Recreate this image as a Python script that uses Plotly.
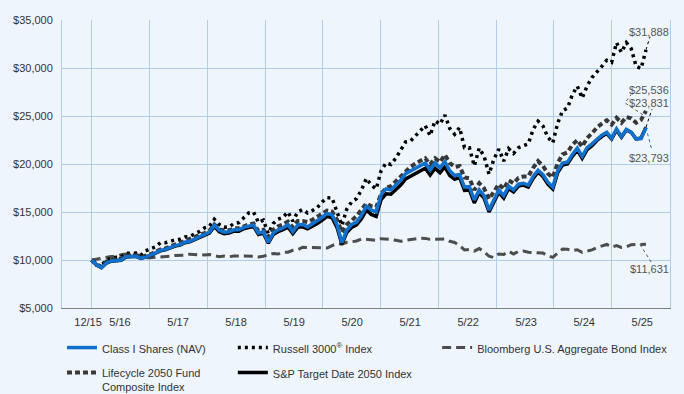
import plotly.graph_objects as go

# ---------------- data (monthly, 12/15 .. 5/25) ----------------
months = list(range(114))

class_i = [10000, 9500, 9200, 9700, 9900, 9950, 10000, 10350, 10420, 10400, 10200, 10300, 10500,
           10750, 11000, 11100, 11300, 11500, 11600, 11850, 11950, 12200, 12450, 12700, 12900,
           13650, 13100, 12900, 12950, 13150, 13150, 13400, 13550, 13650, 12800, 12950, 11850,
           12800, 13150, 13350, 13700, 12950, 13650, 13700, 13450, 13750, 14100, 14450, 14850,
           14700, 13700, 11800, 13100, 13700, 13950, 14650, 15600, 15200, 15000, 16800, 17400,
           17300, 17800, 18300, 19000, 19250, 19550, 19800, 20100, 19350, 20100, 19600, 20250,
           19300, 18800, 18900, 17600, 17650, 16250, 17300, 16700, 15200, 16300, 17300, 16700,
           17700, 17300, 17900, 18000, 17800, 18700, 19350, 18900, 18100, 17600, 19300, 20100,
           20200, 21000, 21650, 20800, 21700, 22100, 22600, 23000, 23300, 22700, 23650, 22850,
           23600, 23300, 22600, 22650, 23793]

sp_target_2050 = [10000, 9480, 9200, 9680, 9880, 9930, 9980, 10320, 10380, 10380, 10170, 10280, 10470,
                  10700, 10950, 11050, 11250, 11450, 11550, 11800, 11900, 12150, 12400, 12600, 12800,
                  13500, 12950, 12750, 12800, 13000, 13000, 13250, 13400, 13500, 12650, 12800, 11750,
                  12650, 12950, 13150, 13450, 12750, 13400, 13450, 13250, 13500, 13800, 14150, 14550,
                  14400, 13400, 11650, 12850, 13400, 13650, 14300, 15200, 14750, 14550, 16300, 16900,
                  16850, 17300, 17800, 18450, 18700, 18950, 19250, 19550, 18850, 19550, 19100, 19700,
                  18800, 18400, 18600, 17250, 17300, 15950, 17000, 16450, 15000, 16050, 17050, 16450,
                  17450, 17100, 17700, 17800, 17600, 18500, 19150, 18700, 17900, 17400, 19100, 19900,
                  20000, 20800, 21450, 20600, 21500, 21900, 22450, 22850, 23200, 22600, 23550, 22800,
                  23550, 23300, 22600, 22700, 23831]

lifecycle_2050 = [10000, 9550, 9300, 9850, 10000, 10050, 10150, 10450, 10500, 10500, 10300, 10400, 10600,
                  10850, 11100, 11200, 11400, 11600, 11700, 11950, 12100, 12300, 12550, 12800, 13050,
                  13700, 13200, 13050, 13100, 13300, 13300, 13550, 13700, 13800, 13000, 13150, 12400,
                  13150, 13500, 13700, 14000, 13400, 14050, 14050, 13950, 14200, 14500, 14800, 15150,
                  15050, 14200, 12900, 13700, 14100, 14600, 15250, 15900, 15600, 15500, 16900, 17500,
                  17700, 18200, 18700, 19300, 19700, 20050, 20300, 20600, 19950, 20600, 20200, 20950,
                  20100, 19700, 19800, 18600, 18500, 17300, 18000, 17450, 16350, 17100, 17900, 17400,
                  18300, 18000, 18550, 18700, 18700, 19600, 20300, 19800, 19000, 18600, 20100, 21000,
                  21200, 22000, 22500, 21800, 22700, 23200, 23800, 24200, 24550, 24100, 24800, 24300,
                  24900, 24750, 24300, 24600, 25536]

russell_3000 = [10000, 9440, 9420, 10050, 10110, 10290, 10310, 10700, 10710, 10720, 10490, 10950, 11170,
                11370, 11800, 11800, 11930, 12100, 12170, 12400, 12450, 12700, 12980, 13350, 13500,
                14250, 13700, 13400, 13450, 13800, 13900, 14400, 14900, 15000, 13900, 14150, 12750,
                13800, 14250, 14450, 15000, 14050, 15000, 15250, 14900, 15150, 15450, 16050, 16500,
                16450, 15150, 13600, 15300, 16050, 16400, 17300, 18500, 17800, 17400, 19300, 20100,
                19950, 20600, 21450, 22300, 22400, 22900, 23400, 24000, 22950, 24500, 24150, 25100,
                23700, 23100, 23800, 21700, 21700, 19800, 21650, 20800, 18950, 20500, 21550, 20300,
                21600, 21100, 21700, 21900, 22100, 23600, 24450, 23950, 22800, 22200, 24250, 25550,
                25830, 27230, 28100, 26870, 28130, 29000, 29550, 30170, 30800, 30590, 32640, 31630,
                32640, 32020, 30160, 29950, 31888]

bloomberg_agg = [10000, 10100, 10150, 10300, 10360, 10380, 10560, 10620, 10610, 10550, 10470, 10220, 10240,
                 10260, 10330, 10320, 10400, 10480, 10470, 10510, 10610, 10550, 10540, 10530, 10580,
                 10450, 10350, 10410, 10340, 10410, 10410, 10410, 10470, 10400, 10320, 10380, 10570,
                 10680, 10620, 10820, 10820, 11010, 11080, 11330, 11310, 11310, 11290, 11270, 11250,
                 11500, 11700, 11650, 11850, 11900, 11980, 12200, 12150, 12100, 12050, 12220, 12200,
                 12150, 12050, 11950, 12050, 12150, 12250, 12280, 12250, 12150, 12150, 12200, 12200,
                 11950, 11830, 11500, 11050, 11100, 10930, 11190, 10860, 10390, 10250, 10630, 10580,
                 10910, 10630, 10890, 10930, 10810, 10800, 10790, 10720, 10440, 10270, 10730, 11140,
                 11120, 10970, 11070, 10800, 10940, 11050, 11300, 11470, 11620, 11340, 11500, 11300,
                 11360, 11600, 11610, 11650, 11631]

tick_labels = ["12/15", "5/16", "5/17", "5/18", "5/19", "5/20", "5/21", "5/22", "5/23", "5/24", "5/25"]

# ---------------- layout helpers (positions / styles) ----------------
label_pos = [-0.75] + [5.77 + 11.83 * k for k in range(10)]
grid_pos = [11.78 * k for k in range(10)]

FONT = "Liberation Sans, Arial, sans-serif"
TXT = "#333333"
BLUE = "#1070CC"
GRID = "#AFCBF0"
BG = "#EFF5FC"

fig = go.Figure()

def add(y, name, color, width, dash, legend, rank):
    fig.add_trace(go.Scatter(x=months, y=y, mode="lines", name=name,
                             line=dict(color=color, width=width, dash=dash),
                             legend=legend, legendrank=rank, legendgroup="g%d" % rank,
                             hoverinfo="skip"))

add(bloomberg_agg, "Bloomberg U.S. Aggregate Bond Index", "#4D4D4D", 3, "9px,5px", "legend3", 3)
add(russell_3000, "Russell 3000<sup>®</sup> Index", "#000000", 3.5, "3px,4px", "legend2", 2)
add(lifecycle_2050, "Lifecycle 2050 Fund<br>Composite Index", "#383838", 4, "5px,3px", "legend", 4)
add(sp_target_2050, "S&P Target Date 2050 Index", "#000000", 3.5, "solid", "legend2", 5)
add(class_i, "Class I Shares (NAV)", BLUE, 3.5, "solid", "legend", 1)

# end labels with dotted leaders
ends = [
    (russell_3000[-1], "#000000", 18, [(0, 0), (4, 13)]),
    (lifecycle_2050[-1], "#555555", 21, [(-3, -4), (-21, 8), (-15, 16)]),
    (sp_target_2050[-1], "#000000", 24.5, [(0, 0), (6, 18)]),
    (class_i[-1], BLUE, -30.7, [(0, 0), (6, -23)]),
    (bloomberg_agg[-1], "#555555", -25, [(-6, 0), (6, -19)]),
]
for val, col, ysh, pts in ends:
    fig.add_annotation(x=months[-1], y=val, xref="x", yref="y", text="${:,}".format(val),
                       showarrow=False, xanchor="center", yanchor="middle", xshift=3.5, yshift=ysh,
                       font=dict(family=FONT, size=11, color="#555555"))
    path = "M" + " L".join("{},{}".format(px, py) for px, py in pts)
    fig.add_shape(type="path", xref="x", yref="y", xsizemode="pixel", ysizemode="pixel",
                  xanchor=months[-1], yanchor=val, path=path,
                  line=dict(color=col, width=1, dash="dot"))

fig.update_layout(
    width=684, height=394,
    margin=dict(l=62, r=14, t=20, b=86, autoexpand=False),
    paper_bgcolor=BG, plot_bgcolor=BG,
    font=dict(family=FONT, size=11, color=TXT),
    showlegend=True,
    xaxis=dict(range=[-6.06, 117.9], tickmode="array", tickvals=label_pos, ticktext=tick_labels,
               showgrid=False, zeroline=False, showline=True, linecolor="#808080", linewidth=1,
               ticks="outside", ticklen=4, tickcolor="rgba(0,0,0,0)",
               minor=dict(tickmode="array", tickvals=grid_pos, showgrid=True, gridcolor=GRID, gridwidth=1),
               tickfont=dict(size=11, color=TXT)),
    yaxis=dict(range=[5000, 35000], dtick=5000, tickformat="$,.0f", showgrid=True, gridcolor=GRID,
               gridwidth=1, zeroline=False, showline=True, mirror=True, linecolor=GRID, linewidth=1,
               ticks="outside", ticklen=6, tickcolor="rgba(0,0,0,0)", tickfont=dict(size=11, color=TXT)),
)

leg_common = dict(orientation="v", yanchor="top", xanchor="left", bgcolor="rgba(0,0,0,0)",
                  font=dict(family=FONT, size=11, color=TXT), itemwidth=30, tracegroupgap=6,
                  traceorder="grouped", valign="top", itemclick=False)
fig.update_layout(
    legend=dict(x=0.0, y=-0.090, **leg_common),
    legend2=dict(x=0.281, y=-0.090, **leg_common),
    legend3=dict(x=0.617, y=-0.090, **leg_common),
)

fig.write_html("out.html", config={"displayModeBar": False},
               post_script="document.body.style.margin='0';document.body.style.background='" + BG + "';")
